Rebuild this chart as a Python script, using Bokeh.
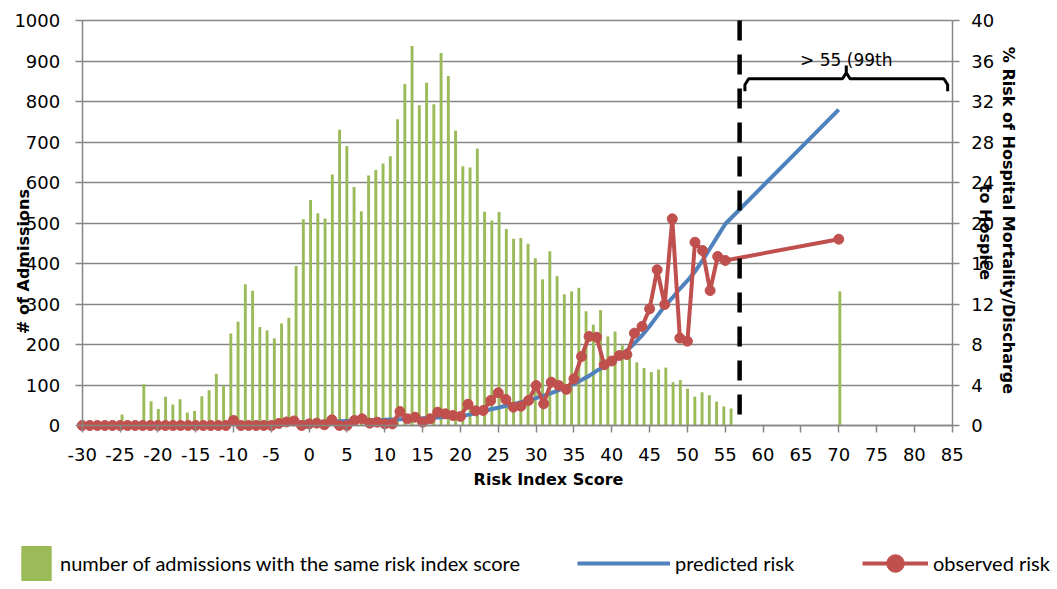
import math
from bokeh.plotting import figure
from bokeh.models import Range1d, LinearAxis, FixedTicker, Label, Legend, LegendItem
from bokeh.embed import file_html
from bokeh.resources import INLINE

# ---------------- data ----------------
bar_scores = ([-29, -28, -27] + list(range(-26, 56)) + [70])
bar_counts = [27, 0, 0,
              102, 60, 41, 71, 52, 65, 32, 36, 72, 87,          # -26 .. -17
              128, 99, 227, 256, 349, 333, 243, 235, 215, 252,  # -16 .. -7
              266, 394, 509, 557, 524, 511,                     # -6 .. -1
              620, 730, 690, 589, 529, 617, 631, 647, 665, 756,  # 0 .. 9
              843, 937, 791, 846, 793, 920, 863, 728, 640, 637,  # 10 .. 19
              684, 528, 506, 527, 485, 461, 463, 449, 413, 361,  # 20 .. 29
              430, 369, 324, 331, 340, 282, 249, 285, 220, 232,  # 30 .. 39
              198, 174, 156, 142, 132, 138, 143, 107, 112, 91,   # 40 .. 49
              71, 82, 75, 59, 47, 42,                            # 50 .. 55
              331]                                               # 70

risk_scores = list(range(-30, 56)) + [70]
predicted_risk = [0.05, 0.05, 0.06, 0.06, 0.07, 0.07, 0.08, 0.08, 0.09, 0.09,   # -30..-21
                  0.10, 0.10, 0.11, 0.12, 0.12, 0.13, 0.14, 0.15, 0.16, 0.17,   # -20..-11
                  0.18, 0.19, 0.20, 0.21, 0.22, 0.24, 0.25, 0.27, 0.28, 0.30,   # -10..-1
                  0.32, 0.34, 0.36, 0.38, 0.41, 0.44, 0.47, 0.50, 0.52, 0.54,   # 0..9
                  0.56, 0.59, 0.62, 0.65, 0.69, 0.72, 0.76, 0.80, 0.85, 0.90,   # 10..19
                  0.95, 1.05, 1.20, 1.40, 1.60, 1.75, 1.95, 2.10, 2.30, 2.50,   # 20..29
                  2.70, 2.95, 3.20, 3.50, 3.80, 4.10, 4.50, 4.90, 5.40, 5.80,   # 30..39
                  6.30, 6.80, 7.40, 8.10, 8.90, 9.80, 10.80, 11.80, 12.60, 13.50,  # 40..49
                  14.30, 15.20, 16.30, 17.50, 18.70, 19.90,                   # 50..55
                  31.20]                                                      # 70
observed_risk = [0, 0, 0, 0, 0, 0, 0, 0, 0, 0,                                 # -30..-21
                 0, 0, 0, 0, 0, 0, 0, 0, 0, 0,                                 # -20..-11
                 0.50, 0, 0, 0, 0, 0, 0.20, 0.35, 0.45, 0.00,                  # -10..-1
                 0.16, 0.23, 0.07, 0.56, 0.00, 0.00, 0.50, 0.66, 0.23, 0.33,   # 0..9
                 0.16, 0.16, 1.38, 0.66, 0.82, 0.33, 0.66, 1.32, 1.15, 0.99,   # 10..19
                 0.90, 2.10, 1.45, 1.48, 2.47, 3.23, 2.57, 1.81, 1.91, 2.47,   # 20..29
                 3.95, 2.14, 4.28, 3.95, 3.57, 4.61, 6.81, 8.79, 8.72, 6.00,   # 30..39
                 6.37, 6.91, 7.01, 9.12, 9.78, 11.52, 15.38, 11.95, 20.41, 8.63,  # 40..49
                 8.33, 18.10, 17.28, 13.33, 16.69, 16.30,                     # 50..55
                 18.40]                                                       # 70

x_min, x_max = -30, 85
count_max = 1000
pct_max = 40
x_ticks = list(range(-30, 90, 5))
count_ticks = list(range(0, 1100, 100))
pct_ticks = list(range(0, 44, 4))
cutoff_score = 56.9           # dashed separator after score 55
bracket_from, bracket_to = 57.6, 84.4
bracket_text = "> 55 (99th"
legend_labels = ["number of admissions with the same risk index score",
                 "predicted risk", "observed risk"]

# ---------------- layout (pixels) ----------------
W, H = 1056, 588
PLOT_L, PLOT_R, PLOT_T, PLOT_B = 81.7, 951.7, 20.0, 425.0
BAR_SLOTS = 120                 # column slots across the plot area (bar category axis)

ppx = (PLOT_R - PLOT_L) / (x_max - x_min)
ppy = (PLOT_B - PLOT_T) / count_max
x_lo = x_min - PLOT_L / ppx
x_hi = x_max + (W - PLOT_R) / ppx
y_lo = -(H - PLOT_B) / ppy
y_hi = count_max + PLOT_T / ppy
bpx = (PLOT_R - PLOT_L) / BAR_SLOTS
bar_first = -34.5
bx_lo = bar_first - PLOT_L / bpx
bx_hi = bar_first + BAR_SLOTS + (W - PLOT_R) / bpx

def xd(px):
    return x_lo + px / ppx

def yd(py):
    return y_hi - py / ppy

# ---------------- styling ----------------
GREEN = "#9BBB59"
BLUE = "#4F81BD"
RED = "#C0504D"
GRAY = "#868686"
TICK_FONT = "DejaVu Sans"
TITLE_FONT = "DejaVu Sans"
LEGEND_FONT = "Lato"

p = figure(width=W, height=H, output_backend="svg", toolbar_location=None,
           x_range=Range1d(x_lo, x_hi), y_range=Range1d(y_lo, y_hi),
           min_border=0, min_border_left=0, min_border_right=0,
           min_border_top=0, min_border_bottom=0)
p.title.visible = False
p.extra_y_ranges = {"pct": Range1d(y_lo * pct_max / count_max, y_hi * pct_max / count_max)}
p.extra_x_ranges = {"bars": Range1d(bx_lo, bx_hi)}
p.outline_line_color = None
p.background_fill_color = "white"
p.border_fill_color = "white"

p.xgrid.visible = False
grid = p.ygrid[0]
grid.ticker = FixedTicker(ticks=count_ticks)
grid.grid_line_color = GRAY
grid.grid_line_width = 1.5
grid.bounds = (0, count_max)
if "cross_bounds" in grid.properties():
    grid.cross_bounds = (x_min, x_max)
else:
    grid.visible = False
    p.segment(x0=[x_min] * len(count_ticks), x1=[x_max] * len(count_ticks),
              y0=count_ticks, y1=count_ticks, line_color=GRAY, line_width=1.5)

right_axis = LinearAxis(y_range_name="pct", ticker=FixedTicker(ticks=pct_ticks))
p.add_layout(right_axis, "right")

xax = p.xaxis[0]
lax = p.yaxis[0]
xax.ticker = FixedTicker(ticks=x_ticks)
xax.major_label_overrides = {t: str(t) for t in x_ticks}
lax.ticker = FixedTicker(ticks=count_ticks)

for ax in (xax, lax, right_axis):
    ax.axis_line_color = GRAY
    ax.axis_line_width = 1.5
    ax.major_tick_line_color = GRAY
    ax.major_tick_line_width = 1.5
    ax.major_tick_out = 7
    ax.major_tick_in = 0
    ax.minor_tick_line_color = None
    ax.major_label_text_font = TICK_FONT
    ax.major_label_text_font_size = "18px"
    ax.major_label_text_color = "#000000"

xax.fixed_location = 0
xax.bounds = (x_min, x_max)
xax.major_label_standoff = 15
lax.fixed_location = x_min
lax.bounds = (0, count_max)
lax.major_label_standoff = 15
right_axis.fixed_location = x_max
right_axis.bounds = (0, pct_max)
right_axis.major_label_standoff = 12

# ---------------- glyphs ----------------
bars = p.vbar(x=bar_scores, top=bar_counts, bottom=0, width=0.4, x_range_name="bars",
              fill_color=GREEN, line_color=None)
pred = p.line(risk_scores, predicted_risk, y_range_name="pct", line_color=BLUE, line_width=4)
obs_line = p.line(risk_scores, observed_risk, y_range_name="pct", line_color=RED, line_width=4)
obs_pts = p.scatter(risk_scores, observed_risk, y_range_name="pct", size=10,
                    fill_color=RED, line_color=RED)

# dashed separator after the last regular score
p.segment(x0=[cutoff_score], x1=[cutoff_score], y0=[count_max], y1=[0],
          line_color="black", line_width=4.5, line_dash="20 14")

# brace over the high-risk group
mid = (bracket_from + bracket_to) / 2
by, tip, peak = yd(78.3), yd(90.7), yd(65)
d = 6 / ppy
bxs = [bracket_from, bracket_from, bracket_from + 0.5, mid - 0.5, mid, mid, mid, mid + 0.5,
       bracket_to - 0.5, bracket_to, bracket_to]
bys = [tip, by - d, by, by, by + d, peak, by + d, by, by, by - d, tip]
p.line(bxs, bys, line_color="black", line_width=3)

p.add_layout(Label(x=mid, y=yd(59), text=bracket_text, text_align="center",
                   text_baseline="alphabetic", text_font=TICK_FONT, text_font_size="17px",
                   text_color="black"))

# ---------------- axis titles ----------------
def title(text, px, py, angle, size):
    p.add_layout(Label(x=xd(px), y=yd(py), text=text, angle=angle, text_align="center",
                       text_baseline="middle", text_font=TITLE_FONT,
                       text_font_style="bold", text_font_size=size, text_color="black"))

title("# of Admissions", 23, 261, math.pi / 2, "16px")
title("Risk Index Score", 548, 479, 0, "16px")
title("% Risk of Hospital Mortality/Discharge", 1008, 220, -math.pi / 2, "16px")
title("to Hospice", 985, 232, -math.pi / 2, "16px")

# ---------------- legend ----------------
def make_legend(label, renderers, loc, gw, standoff):
    lg = Legend(items=[LegendItem(label=label, renderers=renderers)], location=loc,
                orientation="horizontal", padding=0, margin=0, spacing=0,
                glyph_width=gw, glyph_height=44, label_standoff=standoff,
                label_text_font=LEGEND_FONT, label_text_font_size="20px",
                label_text_color="black", border_line_color=None,
                background_fill_alpha=0)
    p.add_layout(lg)

make_legend(legend_labels[0], [bars], (17, 3), 38, 5)
make_legend(legend_labels[1], [pred], (577, 3), 93, 5)
make_legend(legend_labels[2], [obs_line, obs_pts], (862, 3), 66, 5)

open("out.html", "w").write(file_html(p, INLINE))
